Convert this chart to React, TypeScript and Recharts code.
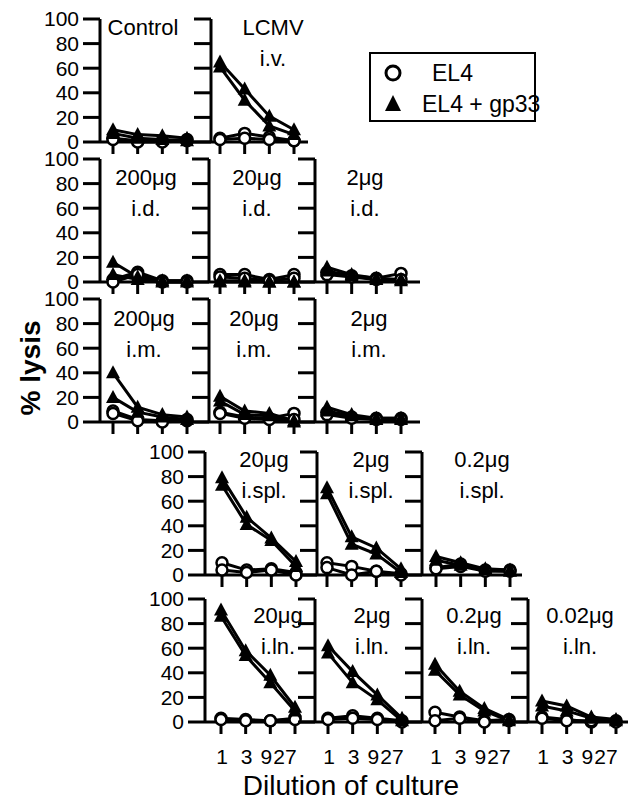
import React from 'react'
import { Line, LineChart, XAxis, YAxis } from 'recharts'

const FONT = '"Liberation Sans", Arial, Helvetica, sans-serif'

const dilutions = ['1', '3', '9', '27']
const yTicks = [0, 20, 40, 60, 80, 100]

// two cultures per target (% lysis at dilution 1, 3, 9, 27)
const controlEl4 = [[3, 1, 1, 2], [2, 0, 0, 1]]
const controlGp33 = [[10, 6, 5, 3], [7, 3, 2, 1]]
const lcmvEl4 = [[3, 7, 4, 1], [2, 3, 2, 1]]
const lcmvGp33 = [[65, 43, 21, 10], [61, 34, 13, 6]]
const id200El4 = [[2, 8, 1, 1], [0, 6, 0, 0]]
const id200Gp33 = [[16, 4, 1, 1], [6, 2, 0, 0]]
const id20El4 = [[6, 6, 2, 6], [4, 3, 1, 3]]
const id20Gp33 = [[1, 1, 0, 0], [0, 0, 0, 0]]
const id2El4 = [[8, 5, 3, 7], [6, 4, 2, 2]]
const id2Gp33 = [[12, 6, 3, 2], [9, 5, 2, 1]]
const im200El4 = [[9, 2, 1, 2], [7, 1, 0, 1]]
const im200Gp33 = [[40, 12, 6, 4], [20, 8, 4, 2]]
const im20El4 = [[8, 4, 3, 7], [7, 3, 2, 2]]
const im20Gp33 = [[21, 9, 7, 1], [17, 6, 5, 0]]
const im2El4 = [[8, 4, 3, 3], [6, 3, 2, 2]]
const im2Gp33 = [[12, 6, 3, 3], [9, 5, 2, 2]]
const spl20El4 = [[10, 4, 5, 2], [4, 2, 4, 0]]
const spl20Gp33 = [[79, 47, 30, 11], [73, 41, 28, 7]]
const spl2El4 = [[10, 7, 3, 1], [6, 0, 3, 0]]
const spl2Gp33 = [[71, 31, 22, 5], [66, 25, 17, 2]]
const spl02El4 = [[6, 9, 4, 4], [5, 7, 3, 3]]
const spl02Gp33 = [[15, 10, 5, 4], [12, 8, 4, 3]]
const ln20El4 = [[3, 2, 1, 3], [2, 1, 1, 2]]
const ln20Gp33 = [[91, 58, 38, 12], [86, 54, 32, 9]]
const ln2El4 = [[3, 5, 3, 1], [2, 3, 2, 0]]
const ln2Gp33 = [[62, 41, 22, 3], [56, 32, 18, 1]]
const ln02El4 = [[8, 4, 1, 2], [1, 3, 0, 1]]
const ln02Gp33 = [[47, 25, 11, 2], [42, 22, 9, 1]]
const ln002El4 = [[4, 2, 0, 1], [3, 1, 1, 0]]
const ln002Gp33 = [[17, 13, 4, 2], [13, 9, 3, 1]]

// zero line of each row, in page pixels
const rowZero = [141.5, 282, 421.5, 575, 722]
const PLOT_H = 123
const Y_W = 80
const TOP_M = 20
const X_H = 50
const OFF = 8

const panels = [
  { row: 0, x: 100, w: 111, pad: 13, first: true, el4: controlEl4, gp: controlGp33, l1: 'Control', l2: '', lx: 143, ly: 27 },
  { row: 0, x: 211, w: 97, pad: 9, el4: lcmvEl4, gp: lcmvGp33, l1: 'LCMV', l2: 'i.v.', lx: 273, ly: 27 },
  { row: 1, x: 100, w: 109, pad: 13, first: true, el4: id200El4, gp: id200Gp33, l1: '200μg', l2: 'i.d.', lx: 146, ly: 177 },
  { row: 1, x: 209, w: 106, pad: 11, el4: id20El4, gp: id20Gp33, l1: '20μg', l2: 'i.d.', lx: 257, ly: 177 },
  { row: 1, x: 315, w: 105, pad: 12, el4: id2El4, gp: id2Gp33, l1: '2μg', l2: 'i.d.', lx: 365, ly: 177 },
  { row: 2, x: 100, w: 109, pad: 13, first: true, el4: im200El4, gp: im200Gp33, l1: '200μg', l2: 'i.m.', lx: 144, ly: 318 },
  { row: 2, x: 209, w: 106, pad: 11, el4: im20El4, gp: im20Gp33, l1: '20μg', l2: 'i.m.', lx: 254, ly: 318 },
  { row: 2, x: 315, w: 105, pad: 12, el4: im2El4, gp: im2Gp33, l1: '2μg', l2: 'i.m.', lx: 369, ly: 318 },
  { row: 3, x: 205, w: 112, pad: 17, first: true, el4: spl20El4, gp: spl20Gp33, l1: '20μg', l2: 'i.spl.', lx: 264, ly: 459 },
  { row: 3, x: 317, w: 105, pad: 10, el4: spl2El4, gp: spl2Gp33, l1: '2μg', l2: 'i.spl.', lx: 371, ly: 459 },
  { row: 3, x: 422, w: 100, pad: 14, el4: spl02El4, gp: spl02Gp33, l1: '0.2μg', l2: 'i.spl.', lx: 482, ly: 459 },
  { row: 4, x: 205, w: 110, pad: 16, first: true, el4: ln20El4, gp: ln20Gp33, l1: '20μg', l2: 'i.ln.', lx: 278, ly: 615 },
  { row: 4, x: 315, w: 107, pad: 13, el4: ln2El4, gp: ln2Gp33, l1: '2μg', l2: 'i.ln.', lx: 372, ly: 615 },
  { row: 4, x: 422, w: 106, pad: 13, el4: ln02El4, gp: ln02Gp33, l1: '0.2μg', l2: 'i.ln.', lx: 474, ly: 615 },
  { row: 4, x: 528, w: 100, pad: 14, el4: ln002El4, gp: ln002Gp33, l1: '0.02μg', l2: 'i.ln.', lx: 580, ly: 615 },
]

const Triangle = (props: any) => {
  const { cx, cy, index } = props
  if (cx == null || cy == null) return <g key={`t-${index}`} />
  return <path key={`t-${index}`} d={`M${cx},${cy - 7.5} L${cx + 7},${cy + 5.5} L${cx - 7},${cy + 5.5} Z`} fill="#000" />
}

const circleDot = { r: 5.5, fill: '#fff', stroke: '#000', strokeWidth: 2.5 }

const EmptyTick = () => <g />

const DilTick = (props: any) => {
  const { x, y, payload } = props
  const v = payload.value
  // the figure nudges "9" and "27" left so they don't collide
  const dx = v === '27' ? -10 : v === '9' ? -4 : 1
  return (
    <text x={x + dx} y={y + 28} textAnchor="middle" fontSize={21} fontFamily={FONT} fill="#000">{v}</text>
  )
}

function Panel({ p }: { p: any }) {
  const data = dilutions.map((d, i) => ({
    dil: d, e1: p.el4[0][i], e2: p.el4[1][i], g1: p.gp[0][i], g2: p.gp[1][i],
  }))
  const padR = p.w - p.pad - 74
  const left = p.x - OFF - Y_W
  const top = rowZero[p.row] - PLOT_H - OFF - TOP_M
  const axis = { stroke: '#000', strokeWidth: 3 }
  return (
    <div style={{ position: 'absolute', left, top }}>
      <LineChart width={Y_W + p.w} height={TOP_M + PLOT_H + X_H} data={data}
        margin={{ top: TOP_M, right: 0, bottom: 0, left: 0 }} style={{ overflow: 'visible' }}>
        <XAxis dataKey="dil" height={X_H} interval={0} padding={{ left: p.pad, right: padR }}
          axisLine={axis} tickLine={axis} tickSize={12}
          tick={p.row === 4 ? DilTick : EmptyTick} />
        <YAxis type="number" domain={[0, 100]} ticks={yTicks} interval={0} width={Y_W}
          axisLine={axis} tickLine={axis} tickSize={17} tickMargin={4}
          tick={p.first ? { fill: '#000', fontSize: 21, fontFamily: FONT } : EmptyTick} />
        <Line type="linear" dataKey="e1" stroke="#000" strokeWidth={3} dot={circleDot} isAnimationActive={false} />
        <Line type="linear" dataKey="e2" stroke="#000" strokeWidth={3} dot={circleDot} isAnimationActive={false} />
        <Line type="linear" dataKey="g1" stroke="#000" strokeWidth={3} dot={Triangle} isAnimationActive={false} />
        <Line type="linear" dataKey="g2" stroke="#000" strokeWidth={3} dot={Triangle} isAnimationActive={false} />
      </LineChart>
    </div>
  )
}

export default function App() {
  return (
    <div style={{ position: 'relative', width: 630, height: 791, fontFamily: FONT, background: '#fff' }}>
      {panels.map((p, i) => <Panel key={i} p={p} />)}
      <svg width={630} height={791} style={{ position: 'absolute', left: 0, top: 0, pointerEvents: 'none' }}>
        <g transform={`translate(${-OFF},${-OFF})`} fontFamily={FONT} fill="#000">
          {panels.map((p, i) => (
            <g key={i} fontSize={22} textAnchor="middle">
              <text x={p.lx} y={p.ly} dominantBaseline="central">{p.l1}</text>
              {p.l2 && <text x={p.lx} y={p.ly + 31} dominantBaseline="central">{p.l2}</text>}
            </g>
          ))}
          <rect x={370} y={53} width={165} height={68} fill="none" stroke="#000" strokeWidth={2} />
          <circle cx={393} cy={73} r={7} fill="#fff" stroke="#000" strokeWidth={3} />
          <path d="M393,95 L401,111 L385,111 Z" fill="#000" />
          <text x={432} y={73} fontSize={23} dominantBaseline="central">EL4</text>
          <text x={422} y={104} fontSize={23} dominantBaseline="central">EL4 + gp33</text>
          <text x={30} y={368} fontSize={28} fontWeight="bold" textAnchor="middle" dominantBaseline="central"
            transform="rotate(-90, 30, 368)">% lysis</text>
          <text x={351} y={785} fontSize={28} textAnchor="middle" dominantBaseline="central">Dilution of culture</text>
        </g>
      </svg>
    </div>
  )
}
